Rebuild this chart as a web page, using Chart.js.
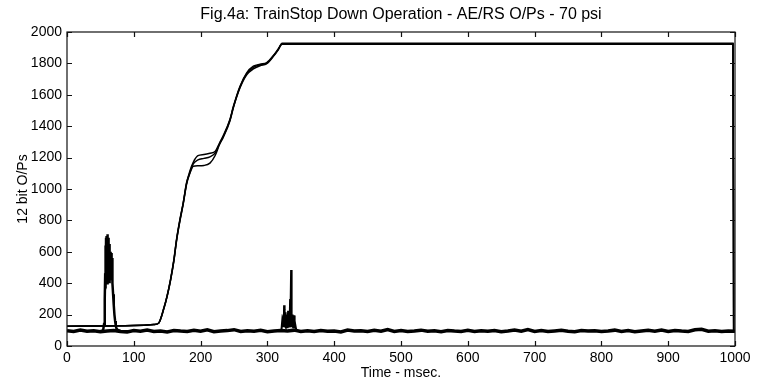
<!DOCTYPE html>
<html>
<head>
<meta charset="utf-8">
<script src="https://cdn.jsdelivr.net/npm/chart.js@4.4.1/dist/chart.umd.min.js"></script>
<style>
html,body{margin:0;padding:0;background:#fff;}
#wrap{width:759px;height:383px;}
</style>
</head>
<body>
<div id="wrap"><canvas id="c" width="759" height="383"></canvas></div>
<script>
// ---- data ----
const titleText = "Fig.4a: TrainStop Down Operation - AE/RS O/Ps - 70 psi";
const xTitle = "Time - msec.";
const yTitle = "12 bit O/Ps";
const xTicks = [0,100,200,300,400,500,600,700,800,900,1000];
const yTicks = [0,200,400,600,800,1000,1200,1400,1600,1800,2000];

// AE/RS ramp output (three overlaid runs)
const rampT = [0,100,130,137,145,150,155,160,164,169,174,179,184,189,196,205,214,222,228,234,244,249,259,269,279,289,299,309,316,322,330,997,998];
const rampA = [126,130,137,145,240,320,420,545,675,800,910,1036,1115,1170,1212,1220,1228,1240,1290,1340,1445,1525,1655,1740,1782,1795,1805,1850,1890,1925,1925,1925,92];
const rampB = [126,130,137,145,238,318,418,542,670,795,905,1030,1105,1160,1185,1195,1205,1230,1285,1335,1440,1520,1650,1735,1775,1790,1800,1848,1888,1922,1922,1922,92];
const rampC = [126,130,137,145,242,322,425,550,680,805,912,1040,1100,1145,1148,1150,1165,1215,1280,1330,1435,1518,1645,1728,1765,1785,1798,1845,1885,1928,1928,1928,92];

// noisy baseline output
const baseT = [0,10,20,30,40,50,60,70,80,90,
  100,110,120,130,140,150,160,170,180,190,
  200,210,220,230,240,250,260,270,280,290,
  300,310,320,330,340,350,360,370,380,390,
  400,410,420,430,440,450,460,470,480,490,
  500,510,520,530,540,550,560,570,580,590,
  600,610,620,630,640,650,660,670,680,690,
  700,710,720,730,740,750,760,770,780,790,
  800,810,820,830,840,850,860,870,880,890,
  900,910,920,930,940,950,960,970,980,990,1000];
const baseV = [98,92,101,94,97,91,96,99,93,90,
  98,94,101,92,96,90,99,95,92,100,
  94,103,91,96,98,104,92,97,94,100,
  91,96,98,96,101,93,97,92,99,94,
  96,90,102,95,97,92,100,94,105,93,
  98,92,96,101,94,97,91,99,95,93,
  100,92,97,94,99,91,96,102,94,105,
  93,98,92,96,100,94,91,99,95,97,
  92,96,101,93,98,91,96,100,94,102,
  93,99,95,92,103,106,94,97,92,96,94];

// first burst (~60 ms)
const spikeT = [50,54,55.5,56.5,57,57.5,58,58.5,59,59.5,60,60.5,61,61.5,62,62.5,63,63.5,64,64.5,65,65.5,66,66.5,67,67.5,68,69,70,71,72,73,74,76,80];
const spikeV = [96,98,140,300,420,640,410,690,430,700,400,712,420,690,410,660,430,650,400,600,420,590,440,592,420,560,400,330,260,200,160,130,112,102,96];

// second burst (~330 ms)
const burstT = [318,321,322,323,324,324.5,325,325.5,326,326.5,327,327.5,328,328.5,329,329.5,330,330.5,331,331.5,332,332.5,333,333.5,334,334.5,335,335.5,336,336.5,337,337.5,338,338.5,339,339.5,340,340.5,341,342,343,346];
const burstV = [96,100,150,120,200,130,260,120,230,125,215,120,200,125,190,120,200,125,225,120,200,125,180,130,300,140,250,484,180,120,200,125,190,120,175,120,195,115,160,130,105,95];

function pts(t, v){ return t.map((x,i)=>({x:x, y:v[i]})); }

Chart.defaults.color = '#000';
Chart.defaults.font.family = '"Liberation Sans", Arial, Helvetica, sans-serif';

const frameTicks = {
  id: 'frameTicks',
  afterDatasetsDraw(chart){
    const ctx = chart.ctx, a = chart.chartArea;
    const xs = chart.scales.x, ys = chart.scales.y;
    const L = 5;
    ctx.save();
    ctx.strokeStyle = '#111';
    ctx.lineWidth = 1.2;
    ctx.strokeRect(a.left, a.top, a.right - a.left, a.bottom - a.top);
    ctx.beginPath();
    xTicks.forEach(v=>{
      const px = Math.round(xs.getPixelForValue(v)) + 0.5;
      ctx.moveTo(px, a.bottom); ctx.lineTo(px, a.bottom - L);
      ctx.moveTo(px, a.top); ctx.lineTo(px, a.top + L);
    });
    yTicks.forEach(v=>{
      const py = Math.round(ys.getPixelForValue(v)) + 0.5;
      ctx.moveTo(a.left, py); ctx.lineTo(a.left + L, py);
      ctx.moveTo(a.right, py); ctx.lineTo(a.right - L, py);
    });
    ctx.stroke();
    ctx.restore();
  }
};

const lineStyle = (w)=>({borderColor:'#000', borderWidth:w, pointRadius:0, fill:false});
const plain = (v)=>String(v);

new Chart(document.getElementById('c'), {
  type: 'line',
  data: {
    datasets: [
      Object.assign({label:'baseline', data: pts(baseT, baseV), tension:0}, lineStyle(3.5)),
      Object.assign({label:'burst 1', data: pts(spikeT, spikeV), tension:0}, lineStyle(2.5)),
      Object.assign({label:'burst 2', data: pts(burstT, burstV), tension:0}, lineStyle(2)),
      Object.assign({label:'run A', data: pts(rampT, rampA), cubicInterpolationMode:'monotone'}, lineStyle(1.5)),
      Object.assign({label:'run B', data: pts(rampT, rampB), cubicInterpolationMode:'monotone'}, lineStyle(1.5)),
      Object.assign({label:'run C', data: pts(rampT, rampC), cubicInterpolationMode:'monotone'}, lineStyle(1.5))
    ]
  },
  options: {
    responsive: false,
    animation: false,
    layout: { padding: { left: 0, right: 24, top: 0, bottom: 0 } },
    plugins: {
      legend: { display: false },
      tooltip: { enabled: false },
      title: {
        display: true, text: titleText, color: '#000', fullSize: false,
        font: { size: 16, weight: 'normal' },
        padding: { top: 5, bottom: 7.8 }
      }
    },
    scales: {
      x: {
        type: 'linear', min: 0, max: 1000,
        afterBuildTicks(s){ s.ticks = xTicks.map(v=>({value:v})); },
        grid: { display: false, drawTicks: false },
        border: { display: false },
        ticks: { font: { size: 14 }, padding: 4, maxRotation: 0, autoSkip: false, callback: plain },
        title: { display: true, text: xTitle, font: { size: 14 }, padding: { top: 0, bottom: 1 } },
        afterFit(s){ s.height = 37; }
      },
      y: {
        type: 'linear', min: 0, max: 2000,
        afterBuildTicks(s){ s.ticks = yTicks.map(v=>({value:v})); },
        grid: { display: false, drawTicks: false },
        border: { display: false },
        ticks: { font: { size: 14 }, padding: 5, autoSkip: false, callback: plain },
        title: { display: true, text: yTitle, font: { size: 14 }, padding: { top: 15, bottom: 4 } },
        afterFit(s){ s.width = 67; }
      }
    }
  },
  plugins: [frameTicks]
});
</script>
</body>
</html>
